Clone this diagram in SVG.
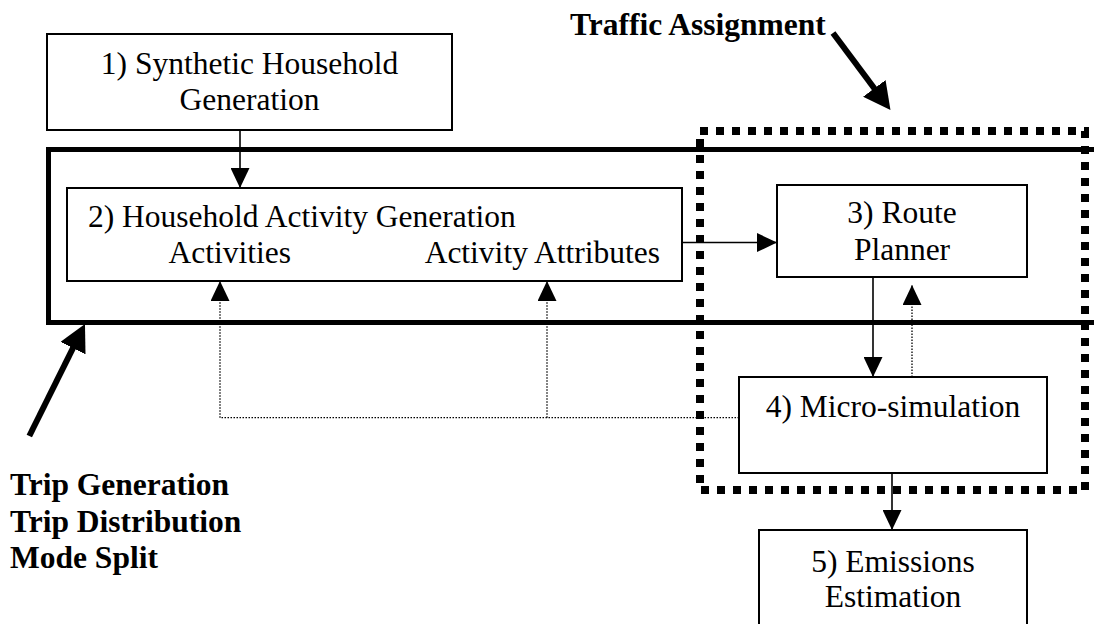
<svg xmlns="http://www.w3.org/2000/svg" width="1094" height="624" viewBox="0 0 1094 624">
<style>
text{font-family:"Liberation Serif","Times New Roman",serif;font-size:31.5px;fill:#000}
.b{font-weight:bold}
.c{text-anchor:middle}
.box{fill:#fff;stroke:#000;stroke-width:2}
.thin{fill:none;stroke:#000;stroke-width:1.6}
.dot{fill:none;stroke:#000;stroke-width:1.3;stroke-dasharray:1.5 1.5}
.big{fill:none;stroke:#000;stroke-width:6}
</style>
<defs>
<marker id="ah" markerUnits="userSpaceOnUse" markerWidth="20" markerHeight="19" viewBox="0 0 20 19" refX="20" refY="9.5" orient="auto"><path d="M0,0 L20,9.5 L0,19 z" fill="#000"/></marker>
<marker id="bh" markerUnits="userSpaceOnUse" markerWidth="27" markerHeight="28" viewBox="0 0 27 28" refX="12" refY="14" orient="auto"><path d="M0,0 L27,14 L0,28 z" fill="#000"/></marker>
</defs>
<g id="region-trip">
<rect x="48.5" y="149.5" width="1050" height="173" fill="none" stroke="#000" stroke-width="5"/>
</g>
<g id="region-traffic">
<rect x="700" y="131" width="385" height="359" fill="none" stroke="#000" stroke-width="8" stroke-dasharray="8 8"/>
</g>
<g id="connectors">
<line class="thin" x1="240" y1="130" x2="240" y2="188" marker-end="url(#ah)"/>
<line class="thin" x1="682" y1="242.5" x2="777" y2="242.5" marker-end="url(#ah)"/>
<line class="thin" x1="873" y1="277" x2="873" y2="377" marker-end="url(#ah)"/>
<line class="thin" x1="892" y1="473" x2="892" y2="530" marker-end="url(#ah)"/>
<path class="dot" d="M739,417.7 H220 V281" marker-end="url(#ah)"/>
<path class="dot" d="M547,417.7 V281" marker-end="url(#ah)"/>
<path class="dot" d="M912,377 V285" marker-end="url(#ah)"/>
<line class="big" x1="833" y1="33" x2="881.5" y2="98" marker-end="url(#bh)"/>
<line class="big" x1="29.3" y1="436" x2="78.3" y2="337.4" marker-end="url(#bh)"/>
</g>
<g id="n1">
<rect class="box" x="47" y="34" width="405" height="96"/>
<text class="c" x="249.5" y="73.5">1) Synthetic Household</text>
<text class="c" x="249.5" y="110">Generation</text>
</g>
<g id="n2">
<rect class="box" x="67" y="188" width="615" height="93"/>
<text x="88" y="226.7">2) Household Activity Generation</text>
<text x="168.6" y="263">Activities</text>
<text x="660" y="263" text-anchor="end">Activity Attributes</text>
</g>
<g id="n3">
<rect class="box" x="777" y="185" width="250" height="92"/>
<text class="c" x="902" y="223">3) Route</text>
<text class="c" x="902" y="260">Planner</text>
</g>
<g id="n4">
<rect class="box" x="739" y="377" width="308" height="96"/>
<text class="c" x="893" y="416.7">4) Micro-simulation</text>
</g>
<g id="n5">
<rect class="box" x="759" y="530" width="268" height="110"/>
<text class="c" x="893" y="571.5">5) Emissions</text>
<text class="c" x="893" y="606.7">Estimation</text>
</g>
<g id="label-traffic">
<text class="b" x="570" y="35">Traffic Assignment</text>
</g>
<g id="label-trip">
<text class="b" x="10" y="495">Trip Generation</text>
<text class="b" x="10" y="531.5">Trip Distribution</text>
<text class="b" x="10" y="568">Mode Split</text>
</g>
</svg>
